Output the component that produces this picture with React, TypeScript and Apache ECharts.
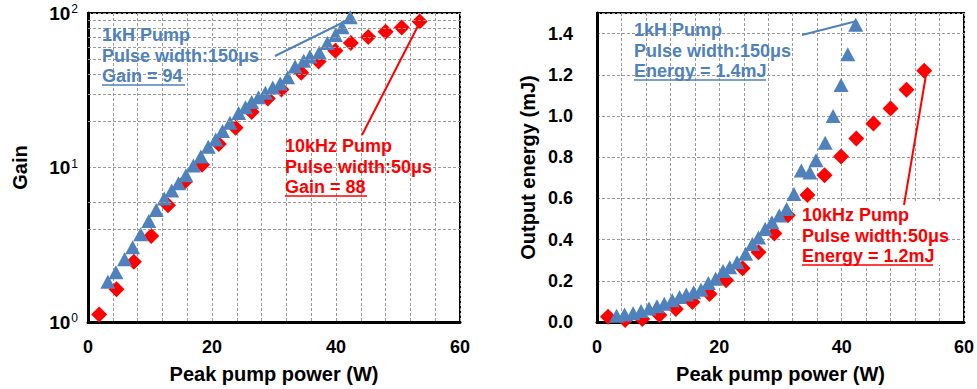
import React, { useEffect, useRef } from 'react';
import * as echarts from 'echarts';

// ---- data ----
const xTickLabels = [0, 20, 40, 60];
const energyTickLabels = [0, 0.2, 0.4, 0.6, 0.8, 1.0, 1.2, 1.4];
const gainMinorGrid = [4, 6, 20, 30, 40, 50, 60, 70, 80, 90];

// 10 kHz pump, 50 µs (red diamonds)
const redPower = [1.8, 4.6, 7.4, 10.2, 12.9, 15.6, 18.4, 21.1, 23.8, 26.4, 29.0, 31.2, 34.4, 37.2, 39.9, 42.4, 45.2, 48.0, 50.6, 53.5];
const redGain = [1.12, 1.63, 2.45, 3.6, 5.7, 8.1, 10.4, 14.2, 18.1, 22.9, 28, 32, 41, 48.6, 57, 64, 70, 75.5, 80.5, 88];
const redEnergy = [0.025, 0.01, 0.015, 0.034, 0.063, 0.097, 0.136, 0.203, 0.261, 0.339, 0.43, 0.518, 0.617, 0.712, 0.804, 0.891, 0.964, 1.036, 1.128, 1.22];

// 1 kHz pump, 150 µs (blue triangles)
const bluePower = [3.2, 4.5, 5.9, 7.2, 8.5, 9.8, 11.0, 12.3, 13.5, 14.6, 15.8, 17.0, 18.2, 19.4, 20.6, 21.7, 22.9, 24.3, 25.4, 26.4, 27.5, 28.6, 29.8, 31.0, 32.2, 33.4, 34.8, 35.8, 37.3, 38.6, 39.9, 41.0, 42.3];
const blueGain = [1.82, 2.1, 2.55, 3.05, 3.7, 4.5, 5.3, 6.3, 7.1, 7.9, 8.9, 10.3, 11.8, 13.6, 15.2, 17.2, 19.5, 22.5, 24.5, 26.5, 28.5, 30.5, 33, 35, 38.4, 45, 49, 52.3, 55.6, 64, 72, 81, 94];
const blueEnergy = [0.03, 0.037, 0.043, 0.053, 0.065, 0.076, 0.089, 0.105, 0.121, 0.134, 0.145, 0.157, 0.189, 0.21, 0.247, 0.266, 0.29, 0.331, 0.379, 0.41, 0.452, 0.484, 0.517, 0.549, 0.621, 0.736, 0.726, 0.785, 0.87, 1.0, 1.15, 1.3, 1.443];

const BLUE = '#4F81BD';
const RED = '#FF0000';
const AXIS_FONT = '"Liberation Sans", Arial, sans-serif';
const NOTE_FAMILY = '"Liberation Sans", Arial, sans-serif';

const pairs = (xs: number[], ys: number[]) => xs.map((x, i) => [x, ys[i]]);

const gridLine = { lineStyle: { color: '#9a9a9a', type: [3, 2] as any, width: 1 } };

function xAxisFor(gridIndex: number) {
  return {
    type: 'value',
    gridIndex,
    min: 0,
    max: 60,
    interval: 4,
    name: 'Peak pump power (W)',
    nameLocation: 'middle',
    nameGap: 42,
    nameTextStyle: { fontFamily: AXIS_FONT, fontWeight: 'bold', fontSize: 20, color: '#000' },
    axisLine: { show: true, onZero: false, lineStyle: { color: '#000', width: 3 } },
    axisTick: { show: false },
    axisLabel: {
      margin: 16,
      fontFamily: AXIS_FONT,
      fontWeight: 'bold',
      fontSize: 18,
      color: '#000',
      formatter: (v: number) => (xTickLabels.indexOf(v) >= 0 ? String(v) : ''),
    },
    splitLine: { show: true, ...gridLine },
  };
}

// one multi-line text block (first line centred at y) plus an underline under the last line
function notes(x: number, y: number, lines: string[], color: string, underlineW: number) {
  return [
    {
      type: 'text',
      x,
      y: y - 10,
      z: 100,
      style: {
        text: lines.join('\n'),
        fill: color,
        fontFamily: NOTE_FAMILY,
        fontWeight: 'bold',
        fontSize: 18,
        lineHeight: 20.5,
        verticalAlign: 'top',
        align: 'left',
      },
    },
    {
      type: 'line',
      z: 100,
      shape: { x1: x, y1: y + 50, x2: x + underlineW, y2: y + 50 },
      style: { stroke: color, lineWidth: 1.5 },
    },
  ];
}

export default function App() {
  const ref = useRef<HTMLDivElement>(null);

  useEffect(() => {
    if (!ref.current) return;
    const chart = echarts.init(ref.current, undefined, { renderer: 'svg' });

    const option: any = {
      animation: false,
      backgroundColor: '#fff',
      grid: [
        { left: 88, top: 13, width: 372, height: 312, show: true, borderColor: '#000', borderWidth: 2, backgroundColor: 'transparent' },
        { left: 597, top: 13, width: 370, height: 312, show: true, borderColor: '#000', borderWidth: 2, backgroundColor: 'transparent' },
      ],
      xAxis: [xAxisFor(0), xAxisFor(1)],
      yAxis: [
        {
          type: 'log',
          gridIndex: 0,
          logBase: 10,
          min: 1,
          max: 100,
          name: 'Gain',
          nameLocation: 'middle',
          nameGap: 58,
          nameTextStyle: { fontFamily: AXIS_FONT, fontWeight: 'bold', fontSize: 20, color: '#000' },
          axisLine: { show: true, lineStyle: { color: '#000', width: 3 } },
          axisTick: { show: false },
          minorTick: { show: false },
          axisLabel: {
            margin: 10,
            color: '#000',
            formatter: (v: number) => `{b|10}{s|${Math.round(Math.log10(v))}}`,
            rich: {
              b: { fontFamily: AXIS_FONT, fontWeight: 'bold', fontSize: 19, color: '#000', lineHeight: 20 },
              s: { fontFamily: AXIS_FONT, fontSize: 12, color: '#000', verticalAlign: 'top', lineHeight: 12, padding: [0, 0, 0, 1] },
            },
          },
          splitLine: { show: true, ...gridLine },
        },
        {
          type: 'value',
          gridIndex: 1,
          min: 0,
          max: 1.5,
          interval: 0.2,
          name: 'Output energy (mJ)',
          nameLocation: 'middle',
          nameGap: 59,
          nameTextStyle: { fontFamily: AXIS_FONT, fontWeight: 'bold', fontSize: 20, color: '#000' },
          axisLine: { show: true, lineStyle: { color: '#000', width: 3 } },
          axisTick: { show: false },
          axisLabel: {
            margin: 24,
            fontFamily: AXIS_FONT,
            fontWeight: 'bold',
            fontSize: 18,
            color: '#000',
            formatter: (v: number) => {
              const hit = energyTickLabels.find((t) => Math.abs(t - v) < 1e-6);
              return hit === undefined ? '' : hit.toFixed(1);
            },
          },
          splitLine: { show: true, ...gridLine },
        },
      ],
      series: [
        {
          type: 'scatter',
          xAxisIndex: 0,
          yAxisIndex: 0,
          data: [],
          z: 1,
          silent: true,
          markLine: {
            silent: true,
            symbol: 'none',
            label: { show: false },
            lineStyle: { color: '#9a9a9a', type: [3, 2], width: 1 },
            data: gainMinorGrid.map((v) => ({ yAxis: v })),
          },
        },
        {
          name: '10kHz gain',
          type: 'scatter',
          xAxisIndex: 0,
          yAxisIndex: 0,
          z: 3,
          symbol: 'diamond',
          symbolSize: 16,
          itemStyle: { color: RED, opacity: 1 },
          data: pairs(redPower, redGain),
        },
        {
          name: '1kHz gain',
          type: 'scatter',
          xAxisIndex: 0,
          yAxisIndex: 0,
          z: 4,
          symbol: 'triangle',
          symbolSize: [15, 14],
          itemStyle: { color: BLUE, opacity: 1 },
          data: pairs(bluePower, blueGain),
        },
        {
          name: '10kHz energy',
          type: 'scatter',
          xAxisIndex: 1,
          yAxisIndex: 1,
          z: 3,
          symbol: 'diamond',
          symbolSize: 16,
          itemStyle: { color: RED, opacity: 1 },
          data: pairs(redPower, redEnergy),
        },
        {
          name: '1kHz energy',
          type: 'scatter',
          xAxisIndex: 1,
          yAxisIndex: 1,
          z: 4,
          symbol: 'triangle',
          symbolSize: [15, 14],
          itemStyle: { color: BLUE, opacity: 1 },
          data: pairs(bluePower, blueEnergy),
        },
      ],
      graphic: [
        { type: 'rect', z: 90, shape: { x: 800, y: 203, width: 140, height: 62 }, style: { fill: '#fff' } },
        ...notes(102, 35, ['1kH Pump', 'Pulse width:150μs', 'Gain = 94'], BLUE, 83),
        { type: 'line', z: 100, shape: { x1: 275, y1: 56, x2: 350, y2: 19 }, style: { stroke: BLUE, lineWidth: 2 } },
        ...notes(285, 146, ['10kHz Pump', 'Pulse width:50μs', 'Gain = 88'], RED, 82),
        { type: 'line', z: 100, shape: { x1: 362, y1: 135, x2: 420, y2: 22 }, style: { stroke: RED, lineWidth: 2 } },
        ...notes(634, 30, ['1kH Pump', 'Pulse width:150μs', 'Energy = 1.4mJ'], BLUE, 132),
        { type: 'line', z: 100, shape: { x1: 802, y1: 35, x2: 857, y2: 21 }, style: { stroke: BLUE, lineWidth: 2 } },
        ...notes(802, 215, ['10kHz Pump', 'Pulse width:50μs', 'Energy = 1.2mJ'], RED, 131),
        { type: 'line', z: 100, shape: { x1: 904, y1: 205, x2: 926, y2: 75 }, style: { stroke: RED, lineWidth: 2 } },
      ],
    };

    chart.setOption(option);
    return () => chart.dispose();
  }, []);

  return (
    <div
      ref={ref}
      style={{ position: 'absolute', left: 0, top: 0, width: 977, height: 389, background: '#fff' }}
    />
  );
}
